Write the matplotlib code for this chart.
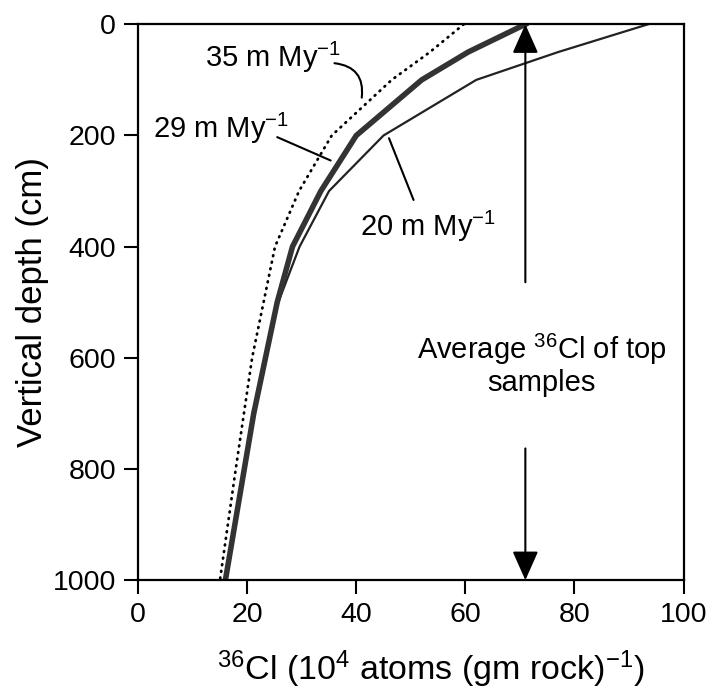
import matplotlib
matplotlib.use('Agg')
import matplotlib.pyplot as plt

plt.rcParams['font.family'] = ['Liberation Sans', 'DejaVu Sans']
plt.rcParams['mathtext.fontset'] = 'custom'
plt.rcParams['mathtext.rm'] = 'Liberation Sans'
plt.rcParams['mathtext.it'] = 'Liberation Sans:italic'
plt.rcParams['mathtext.default'] = 'regular'

# depth (cm) vs 36Cl (10^4 atoms / gm rock) for three erosion rates
depth_35 = [0, 50, 100, 200, 300, 400, 500, 600, 800, 1000]
cl_35 = [59.7, 53.5, 46.5, 35.5, 29.5, 25.1, 23.0, 20.9, 17.9, 15.0]

depth_29 = [0, 50, 100, 200, 300, 400, 500, 700, 1000]
cl_29 = [71.0, 60.5, 52.0, 40.0, 33.5, 28.3, 25.5, 21.2, 16.0]

depth_20 = [0, 50, 100, 200, 300, 400, 500, 700, 1000]
cl_20 = [93.5, 77.0, 62.0, 45.0, 35.0, 29.6, 25.7, 21.2, 16.0]

top_avg = 71.0
xticks = [0, 20, 40, 60, 80, 100]
yticks = [0, 200, 400, 600, 800, 1000]

fig = plt.figure(figsize=(7.12, 6.94), dpi=100)
ax = fig.add_axes([0.194, 0.164, 0.766, 0.801])

ax.plot(cl_35, depth_35, color='k', lw=2.0, linestyle=(0, (0.3, 2.1)),
        dash_capstyle='round')
ax.plot(cl_20, depth_20, color='#222222', lw=1.6)
ax.plot(cl_29, depth_29, color='#333333', lw=4.0, solid_joinstyle='round')

ax.set_xlim(0, 100)
ax.set_ylim(1000, 0)
ax.set_xticks(xticks)
ax.set_yticks(yticks)
ax.tick_params(direction='out', length=10, width=1.5, labelsize=20.5, pad=6)
for s in ax.spines.values():
    s.set_linewidth(1.6)

ax.set_ylabel('Vertical depth (cm)', fontsize=25)
ax.yaxis.set_label_coords(-0.163, 0.5)
ax.set_xlabel(r'$^{36}$Cl (10$^{4}$ atoms (gm rock)$^{-1}$)', fontsize=24.5)
ax.xaxis.set_label_coords(0.537, -0.122)

# arrows marking the average of the top samples
arrow_kw = dict(arrowstyle='-|>,head_length=0.9,head_width=0.4', color='k',
                lw=1.5, mutation_scale=20, shrinkA=0, shrinkB=0)
ax.annotate('', xy=(top_avg, 0), xytext=(top_avg, 464), arrowprops=arrow_kw)
ax.annotate('', xy=(top_avg, 1000), xytext=(top_avg, 763), arrowprops=arrow_kw)
ax.text(74, 612, 'Average $^{36}$Cl of top\nsamples', fontsize=21,
        ha='center', va='center', linespacing=1.12)

# curve labels with leaders
ax.text(12.2, 77, '35 m My$^{-1}$', fontsize=21, va='baseline')
ax.annotate('', xy=(41, 132), xytext=(36, 70),
            arrowprops=dict(arrowstyle='-', lw=1.5, color='k',
                            shrinkA=0, shrinkB=0,
                            connectionstyle='arc3,rad=-0.5'))
ax.text(2.8, 205, '29 m My$^{-1}$', fontsize=21, va='baseline')
ax.annotate('', xy=(35.3, 245), xytext=(25.5, 203),
            arrowprops=dict(arrowstyle='-', lw=1.5, color='k',
                            shrinkA=0, shrinkB=0))
ax.text(40.6, 380, '20 m My$^{-1}$', fontsize=21, va='baseline')
ax.annotate('', xy=(50.5, 316), xytext=(46, 205),
            arrowprops=dict(arrowstyle='-', lw=1.5, color='k',
                            shrinkA=0, shrinkB=0))

fig.savefig('out.png', dpi=100)
